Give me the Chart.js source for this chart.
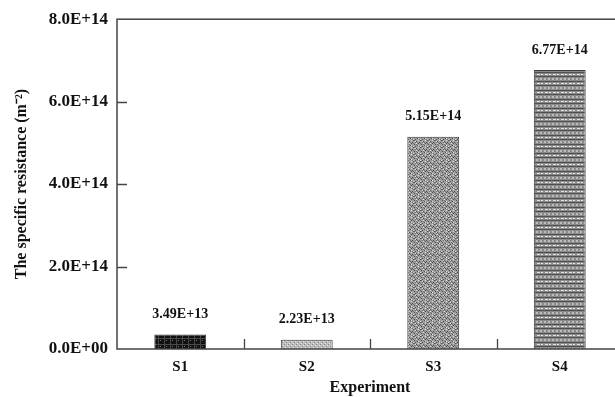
<!DOCTYPE html>
<html>
<head>
<meta charset="utf-8">
<script src="https://cdn.jsdelivr.net/npm/chart.js@4/dist/chart.umd.min.js"></script>
<style>
  html, body { margin: 0; padding: 0; background: #fff; overflow: hidden; }
  #wrap { width: 630px; height: 397px; }
</style>
</head>
<body>
<div id="wrap"><canvas id="c" width="630" height="397"></canvas></div>
<script>
// Specific resistance per experiment
const categories = ['S1', 'S2', 'S3', 'S4'];
const resistance = [3.49e13, 2.23e13, 5.15e14, 6.77e14];
const yTicks = [0, 2e14, 4e14, 6e14, 8e14];

const SERIF = '"Liberation Serif", "Times New Roman", serif';
const AXIS_COLOR = '#444';

// Scientific notation like 3.49E+13 / 0.0E+00
function sci(v, digits) {
  if (v === 0) return (0).toFixed(digits) + 'E+00';
  const exp = Math.floor(Math.log10(Math.abs(v)));
  const mant = (v / Math.pow(10, exp)).toFixed(digits);
  const sign = exp < 0 ? '-' : '+';
  return mant + 'E' + sign + String(Math.abs(exp)).padStart(2, '0');
}

// Fill patterns for the four bars
function makePattern(w, h, draw) {
  const c = document.createElement('canvas');
  c.width = w; c.height = h;
  const g = c.getContext('2d');
  draw(g, w, h);
  return g.createPattern(c, 'repeat');
}
const patterns = [
  // dense dark checker
  makePattern(6, 6, (g) => {
    g.fillStyle = '#111'; g.fillRect(0, 0, 6, 6);
    g.fillStyle = '#4a4a4a';
    g.fillRect(0, 2, 6, 1);
    g.fillRect(2, 0, 1, 6);
    g.fillStyle = '#777';
    g.fillRect(4, 4, 1, 1);
  }),
  // light dotted grey
  makePattern(4, 4, (g) => {
    g.fillStyle = '#bdbdbd'; g.fillRect(0, 0, 4, 4);
    g.fillStyle = '#888';
    g.fillRect(0, 0, 1, 1); g.fillRect(2, 2, 1, 1);
    g.fillStyle = '#e4e4e4';
    g.fillRect(1, 3, 1, 1); g.fillRect(3, 1, 1, 1);
  }),
  // mottled medium grey
  makePattern(7, 7, (g) => {
    g.fillStyle = '#a0a0a0'; g.fillRect(0, 0, 7, 7);
    g.fillStyle = '#4e4e4e';
    [[0,0],[3,1],[6,2],[1,4],[4,5],[2,6],[5,3]].forEach(([x,y]) => g.fillRect(x, y, 1, 1));
    g.fillStyle = '#707070';
    [[1,0],[4,2],[0,3],[3,4],[6,6],[2,2]].forEach(([x,y]) => g.fillRect(x, y, 1, 1));
    g.fillStyle = '#dcdcdc';
    [[2,1],[5,0],[5,5],[0,6],[3,3]].forEach(([x,y]) => g.fillRect(x, y, 1, 1));
  }),
  // horizontal banded stripes
  makePattern(8, 9, (g) => {
    g.fillStyle = '#8a8a8a'; g.fillRect(0, 0, 8, 9);
    g.fillStyle = '#505050';
    g.fillRect(0, 0, 8, 1); g.fillRect(0, 4, 8, 1);
    g.fillStyle = '#e6e6e6';
    g.fillRect(1, 2, 3, 1); g.fillRect(5, 2, 2, 1);
    g.fillStyle = '#bdbdbd';
    g.fillRect(0, 6, 2, 2); g.fillRect(4, 6, 2, 2);
  })
];

// Frame, inward tick marks and value labels
const framePlugin = {
  id: 'frame',
  afterDatasetsDraw(chart) {
    const { ctx, chartArea: a, scales: { x, y } } = chart;
    ctx.save();
    ctx.strokeStyle = AXIS_COLOR;
    ctx.lineWidth = 1.5;
    ctx.strokeRect(a.left, a.top, a.right - a.left, a.bottom - a.top);
    ctx.lineWidth = 1.3;
    ctx.beginPath();
    yTicks.slice(1, -1).forEach(v => {
      const py = Math.round(y.getPixelForValue(v)) + 0.5;
      ctx.moveTo(a.left, py); ctx.lineTo(a.left + 10, py);
    });
    for (let i = 1; i < categories.length; i++) {
      const px = Math.round((x.getPixelForValue(i - 1) + x.getPixelForValue(i)) / 2) + 0.5;
      ctx.moveTo(px, a.bottom); ctx.lineTo(px, a.bottom - 10);
    }
    ctx.stroke();

    const meta = chart.getDatasetMeta(0);
    ctx.fillStyle = '#111';
    ctx.font = 'bold 14px ' + SERIF;
    ctx.textAlign = 'center';
    ctx.textBaseline = 'middle';
    meta.data.forEach((bar, i) => {
      ctx.fillText(sci(resistance[i], 2), bar.x, bar.y - 20);
    });
    ctx.restore();
  }
};

new Chart(document.getElementById('c'), {
  type: 'bar',
  data: {
    labels: categories,
    datasets: [{
      data: resistance,
      backgroundColor: patterns,
      borderColor: '#3a3a3a',
      borderWidth: 1,
      categoryPercentage: 1,
      barPercentage: 0.41
    }]
  },
  options: {
    responsive: false,
    animation: false,
    devicePixelRatio: 1,
    layout: { padding: { top: 18, right: 7, bottom: 0, left: 0 } },
    plugins: { legend: { display: false }, tooltip: { enabled: false } },
    scales: {
      x: {
        grid: { display: false, drawTicks: false },
        border: { display: false },
        ticks: {
          color: '#111',
          font: { family: SERIF, size: 15, weight: 'bold' },
          padding: 9
        },
        title: {
          display: true,
          text: 'Experiment',
          color: '#111',
          font: { family: SERIF, size: 16, weight: 'bold' },
          padding: { top: 2, bottom: 0 }
        },
        afterFit(scale) { scale.height = 48; }
      },
      y: {
        min: 0,
        max: 8e14,
        afterBuildTicks(scale) { scale.ticks = yTicks.map(v => ({ value: v })); },
        grid: { display: false, drawTicks: false },
        border: { display: false },
        ticks: {
          color: '#111',
          font: { family: SERIF, size: 17, weight: 'bold' },
          padding: 9,
          callback: (v) => sci(v, 1)
        },
        title: {
          display: true,
          text: 'The specific resistance (m\u207B\u00B2)',
          color: '#111',
          font: { family: SERIF, size: 16, weight: 'bold' },
          padding: { top: 12, bottom: 0 }
        },
        afterFit(scale) { scale.width = 117; }
      }
    }
  },
  plugins: [framePlugin]
});
</script>
</body>
</html>
